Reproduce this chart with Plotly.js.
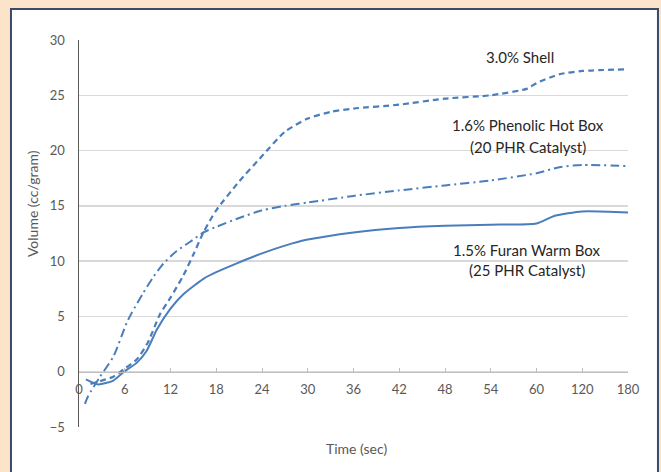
<!DOCTYPE html>
<html>
<head>
<meta charset="utf-8">
<script src="https://cdn.plot.ly/plotly-3.0.1.min.js"></script>
<style>html,body{margin:0;padding:0;background:#fce4cb;}#chart{width:661px;height:472px;}</style>
</head>
<body>
<div id="chart"></div>
<script>
// Category tick labels (time, sec) — equally spaced positions on the axis
var tickLabels = ["0","6","12","18","24","30","36","42","48","54","60","120","180"];

// 3.0% Shell (dashed) — x in tick-position units, y in cc/gram
var shellX = [0.25,0.75,1.0,1.26,1.5,1.77,2.0,2.28,2.5,2.72,3.0,3.5,4.0,4.5,5.0,5.5,6.0,7.0,8.0,9.0,9.8,10.0,10.5,11.0,12.0];
var shellY = [-1.1,-0.45,0.3,1.1,2.6,5.2,6.7,8.7,10.6,12.6,14.6,17.2,19.5,21.7,22.9,23.5,23.8,24.15,24.7,25.0,25.6,26.1,26.9,27.2,27.35];

// 1.6% Phenolic Hot Box (dash-dot)
var phenolicX = [0.13,0.2,0.46,0.75,1.04,1.15,1.4,1.63,1.85,2.13,2.43,2.72,3.0,3.5,4.0,4.5,5.0,6.0,7.0,8.0,9.0,10.0,10.5,11.0,12.0];
var phenolicY = [-2.9,-2.2,-0.45,1.35,4.4,5.3,7.1,8.6,9.8,10.9,11.75,12.6,13.1,13.9,14.6,15.0,15.3,15.9,16.4,16.85,17.3,17.95,18.5,18.7,18.6];

// 1.5% Furan Warm Box (solid)
var furanX = [0.15,0.42,0.75,1.0,1.26,1.48,1.7,2.0,2.28,2.72,3.0,3.45,4.0,4.5,5.0,6.0,7.0,8.0,9.0,10.0,10.4,11.0,12.0];
var furanY = [-0.7,-1.15,-0.8,0.05,0.8,1.9,3.8,5.7,7.0,8.4,9.0,9.8,10.7,11.4,11.95,12.6,13.0,13.2,13.3,13.4,14.1,14.5,14.4];

var tickVals = tickLabels.map(function(_, i){ return i; });
var lineColor = "#4a7ebb";
var FONT = "Lato, 'Open Sans', sans-serif";

var traces = [
  {x: shellX, y: shellY, mode: "lines", name: "3.0% Shell",
   line: {color: lineColor, width: 2.2, dash: "6px,4px", shape: "spline", smoothing: 0.6}},
  {x: phenolicX, y: phenolicY, mode: "lines", name: "1.6% Phenolic Hot Box",
   line: {color: lineColor, width: 2, dash: "9px,4px,2px,4px", shape: "spline", smoothing: 0.6}},
  {x: furanX, y: furanY, mode: "lines", name: "1.5% Furan Warm Box",
   line: {color: lineColor, width: 2, shape: "spline", smoothing: 0.6}}
];

var annFont = {family: FONT, size: 15, color: "#262626"};
function note(text, x, y) {
  return {text: text, xref: "paper", yref: "paper", x: x, y: y, xanchor: "center", yanchor: "middle",
          showarrow: false, font: annFont};
}
var layout = {
  width: 661, height: 472,
  margin: {l: 79, r: 33, t: 40, b: 45},
  paper_bgcolor: "#fce4cb",
  plot_bgcolor: "rgba(0,0,0,0)",
  showlegend: false,
  font: {family: FONT, color: "#595959", size: 13},
  xaxis: {
    range: [0, 12], tickvals: tickVals, ticktext: tickLabels,
    anchor: "free", position: 1/7,
    showgrid: false, zeroline: false,
    showline: true, linecolor: "#bfbfbf", linewidth: 1,
    ticks: "inside", ticklen: 4, tickcolor: "#bfbfbf",
    ticklabelstandoff: 6,
    tickfont: {family: FONT, size: 13, color: "#595959"}
  },
  yaxis: {
    range: [-5, 30], dtick: 5, tick0: 0,
    showgrid: true, gridcolor: "#d9d9d9", gridwidth: 1.3,
    zeroline: false,
    showline: true, linecolor: "#595959", linewidth: 1.5,
    ticks: "", ticklabelstandoff: 10,
    tickfont: {family: FONT, size: 13, color: "#595959"}
  },
  shapes: [
    {type: "rect", xref: "paper", yref: "paper", layer: "below",
     x0: -0.1239, x1: 1.0546, y0: -0.25, y1: 1.0801,
     fillcolor: "#ffffff", line: {color: "#3a4a68", width: 2}}
  ],
  annotations: [
    note("3.0% Shell", 0.803, 0.957),
    note("1.6% Phenolic Hot Box", 0.818, 0.780),
    note("(20 PHR Catalyst)", 0.818, 0.7235),
    note("1.5% Furan Warm Box", 0.816, 0.457),
    note("(25 PHR Catalyst)", 0.816, 0.406),
    {text: "Volume (cc/gram)", xref: "paper", yref: "paper", x: -0.0856, y: 0.576, textangle: -90,
     xanchor: "center", yanchor: "middle", showarrow: false,
     font: {family: FONT, size: 14, color: "#595959"}},
    {text: "Time (sec)", xref: "paper", yref: "paper", x: 0.5046, y: -0.0568,
     xanchor: "center", yanchor: "middle", showarrow: false,
     font: {family: FONT, size: 14, color: "#595959"}}
  ]
};

Plotly.newPlot("chart", traces, layout, {displayModeBar: false, staticPlot: true});
</script>
</body>
</html>
